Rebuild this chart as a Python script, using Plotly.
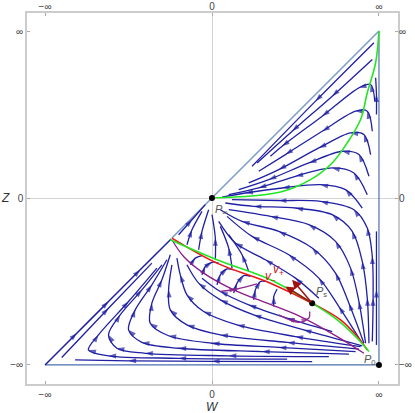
import plotly.graph_objects as go

# key points (w, z) in compactified coordinates, -inf..inf -> -1..1
p_inf = (0.0, 0.0)
p_s = (0.60, -0.63)
p_corner = (1.0, -1.0)
q_point = (-0.24, -0.24)

tick_vals = [-1, 0, 1]
tick_text = ["\u2212\u221e", "0", "\u221e"]

# separatrices / special orbits
green_up_w = [0, 0.41, 0.59, 0.72, 0.81, 0.89, 0.93, 0.98, 1]
green_up_z = [0, 0.036, 0.11, 0.21, 0.33, 0.47, 0.63, 0.81, 1]
green_lo_w = [-0.25, 0.03, 0.35, 0.60, 0.75, 0.87, 0.94]
green_lo_z = [-0.25, -0.37, -0.49, -0.63, -0.73, -0.84, -0.92]
red_w = [-0.24, 0.03, 0.35, 0.60, 0.77, 0.87, 0.93]
red_z = [-0.24, -0.39, -0.51, -0.63, -0.73, -0.83, -0.91]
purple_w = [-0.24, -0.17, -0.05, 0.13, 0.33, 0.53, 0.75, 0.91]
purple_z = [-0.25, -0.35, -0.45, -0.55, -0.63, -0.71, -0.83, -0.93]

# eigenvector tips at P_s
vplus_tip = (0.48, -0.49)
vminus_tip = (0.44, -0.53)

# streamlines, each listed from upstream to downstream as (w, z)
upper_lines = [
    [(0.97, 0.93), (0.62, 0.58), (0.24, 0.19)],
    [(0.96, 0.83), (0.72, 0.61), (0.48, 0.40), (0.27, 0.21)],
    [(0.975, 0.58), (0.95, 0.68), (0.88, 0.66), (0.66, 0.49), (0.42, 0.31), (0.35, 0.25)],
    [(0.96, 0.40), (0.93, 0.52), (0.86, 0.52), (0.66, 0.40), (0.44, 0.26), (0.28, 0.16)],
    [(0.95, 0.26), (0.91, 0.38), (0.83, 0.39), (0.64, 0.30), (0.40, 0.17), (0.22, 0.09)],
    [(0.94, 0.13), (0.88, 0.26), (0.78, 0.28), (0.58, 0.21), (0.34, 0.11), (0.16, 0.05)],
    [(0.93, 0.02), (0.85, 0.15), (0.72, 0.18), (0.50, 0.13), (0.28, 0.06), (0.10, 0.02)],
    [(0.90, -0.06), (0.80, 0.05), (0.65, 0.08), (0.42, 0.06), (0.20, 0.03), (0.06, 0.005)],
    [(0.985, 0.50), (0.985, 0.62), (0.98, 0.72)],
]
right_lines = [
    [(0.96, -0.86), (0.965, -0.60), (0.96, -0.35), (0.93, -0.18), (0.85, -0.07), (0.65, -0.02), (0.40, -0.015), (0.12, -0.01)],
    [(0.94, -0.87), (0.93, -0.60), (0.90, -0.38), (0.84, -0.20), (0.72, -0.10), (0.50, -0.06), (0.25, -0.05), (0.08, -0.03)],
    [(0.92, -0.87), (0.88, -0.62), (0.83, -0.42), (0.74, -0.26), (0.58, -0.16), (0.35, -0.11), (0.10, -0.07)],
    [(0.91, -0.87), (0.82, -0.63), (0.74, -0.45), (0.60, -0.30), (0.40, -0.20), (0.18, -0.14), (0.05, -0.07)],
    [(0.90, -0.87), (0.76, -0.65), (0.64, -0.48), (0.46, -0.34), (0.24, -0.23), (0.09, -0.11)],
    [(0.64, -0.60), (0.50, -0.48), (0.32, -0.37), (0.14, -0.27), (0.04, -0.14)],
    [(0.985, -0.88), (0.985, -0.55), (0.985, -0.20)],
]
center_lines = [
    [(-0.08, -0.31), (-0.06, -0.20), (-0.02, -0.07)],
    [(0.02, -0.37), (0.02, -0.24), (0.0, -0.10)],
    [(0.12, -0.42), (0.10, -0.30), (0.05, -0.17)],
    [(0.22, -0.44), (0.18, -0.34), (0.10, -0.22)],
    [(-0.20, -0.22), (-0.12, -0.13), (-0.04, -0.04)],
    [(-0.15, -0.28), (-0.12, -0.19), (-0.06, -0.08)],
]
hook_lines = [
    [(-0.13, -0.40), (-0.10, -0.36), (-0.06, -0.345)],
    [(-0.06, -0.46), (-0.04, -0.41), (0.0, -0.385), (0.04, -0.39)],
    [(0.03, -0.52), (0.05, -0.46), (0.09, -0.425), (0.13, -0.43)],
    [(0.13, -0.57), (0.15, -0.51), (0.19, -0.465), (0.23, -0.47)],
    [(0.25, -0.61), (0.26, -0.55), (0.29, -0.50), (0.32, -0.50)],
    [(0.37, -0.65), (0.37, -0.59), (0.39, -0.545)],
]
purple_arcs = [
    [(0.05, -0.56), (0.15, -0.545), (0.27, -0.515)],
    [(0.40, -0.70), (0.52, -0.745), (0.58, -0.72), (0.585, -0.68)],
]
lower_lines = [
    [(0.6, -0.98), (0.0, -0.978), (-0.5, -0.975), (-0.82, -0.97)],
    [(-0.90, -0.955), (-0.62, -0.66), (-0.36, -0.39)],
    [(0.45, -0.965), (-0.2, -0.96), (-0.62, -0.945), (-0.74, -0.91), (-0.68, -0.82), (-0.50, -0.62), (-0.33, -0.42)],
    [(0.70, -0.95), (0.1, -0.945), (-0.4, -0.93), (-0.57, -0.90), (-0.62, -0.82), (-0.55, -0.70), (-0.42, -0.55), (-0.30, -0.40)],
    [(0.82, -0.935), (0.3, -0.92), (-0.2, -0.90), (-0.42, -0.865), (-0.50, -0.79), (-0.46, -0.67), (-0.36, -0.52), (-0.27, -0.37)],
    [(0.86, -0.92), (0.4, -0.895), (0.0, -0.87), (-0.26, -0.825), (-0.37, -0.75), (-0.36, -0.63), (-0.30, -0.49), (-0.25, -0.34)],
    [(0.88, -0.905), (0.45, -0.865), (0.05, -0.82), (-0.15, -0.76), (-0.25, -0.67), (-0.26, -0.55), (-0.24, -0.40)],
    [(0.89, -0.89), (0.5, -0.83), (0.15, -0.76), (-0.05, -0.68), (-0.15, -0.58), (-0.19, -0.46), (-0.21, -0.36)],
    [(0.9, -0.885), (0.55, -0.79), (0.25, -0.70), (0.05, -0.61), (-0.08, -0.51), (-0.15, -0.40)],
    [(0.72, -0.80), (0.45, -0.72), (0.22, -0.64), (0.05, -0.56), (-0.06, -0.48)],
]
diag_stream = [(-1, -1), (-0.81, -0.81), (-0.62, -0.62), (-0.43, -0.43), (-0.245, -0.245)]

stream_color = "#2020a4"
fig = go.Figure()


def add_stream(pts, color=stream_color, width=1.3):
    w = [p[0] for p in pts]
    z = [p[1] for p in pts]
    sizes = [0] + [8] * (len(pts) - 2) + [0] if len(pts) > 2 else [0, 8]
    fig.add_trace(go.Scatter(
        x=w, y=z, mode="lines+markers",
        line=dict(color=color, width=width, shape="spline", smoothing=0.9),
        marker=dict(symbol="arrow", angleref="previous", size=sizes, color=color, line=dict(width=0)),
        hoverinfo="skip", showlegend=False))


# domain boundary
fig.add_trace(go.Scatter(x=[-1, 1, 1], y=[-1, -1, 1], mode="lines",
                         line=dict(color="#4f6fae", width=1.2), hoverinfo="skip", showlegend=False))
fig.add_trace(go.Scatter(x=[q_point[0], 1], y=[q_point[1], 1], mode="lines",
                         line=dict(color="#7b9bc9", width=1.5), hoverinfo="skip", showlegend=False))

for group in (upper_lines, right_lines, center_lines, hook_lines, lower_lines):
    for pts in group:
        add_stream(pts)
add_stream(diag_stream, width=1.5)
for pts in purple_arcs:
    add_stream(pts, color="#8e2a8e")

fig.add_trace(go.Scatter(x=purple_w, y=purple_z, mode="lines",
                         line=dict(color="#8b1c8b", width=1.3, shape="spline"), hoverinfo="skip", showlegend=False))
fig.add_trace(go.Scatter(x=red_w, y=red_z, mode="lines",
                         line=dict(color="#ee1515", width=1.6, shape="spline"), hoverinfo="skip", showlegend=False))
fig.add_trace(go.Scatter(x=green_lo_w, y=green_lo_z, mode="lines",
                         line=dict(color="#22e622", width=1.6, shape="spline"), hoverinfo="skip", showlegend=False))
fig.add_trace(go.Scatter(x=green_up_w, y=green_up_z, mode="lines",
                         line=dict(color="#22e622", width=1.6, shape="spline"), hoverinfo="skip", showlegend=False))

fig.add_trace(go.Scatter(x=[p_inf[0], p_s[0], p_corner[0]], y=[p_inf[1], p_s[1], p_corner[1]],
                         mode="markers", marker=dict(color="black", size=6),
                         hoverinfo="skip", showlegend=False))

# dummy trace for the top / right tick labels
fig.add_trace(go.Scatter(x=[0], y=[0], xaxis="x2", yaxis="y2", mode="markers",
                         marker=dict(size=0, opacity=0), hoverinfo="skip", showlegend=False))

for tip in (vplus_tip, vminus_tip):
    fig.add_annotation(x=tip[0], y=tip[1], ax=p_s[0], ay=p_s[1], axref="x", ayref="y",
                       xref="x", yref="y", text="", showarrow=True, arrowhead=2,
                       arrowsize=1.2, arrowwidth=1.5, arrowcolor="#a01010")

label_font = dict(family="Liberation Sans", size=11, color="#555555")
fig.add_annotation(x=p_inf[0], y=p_inf[1], text="<i>P</i><sub>\u221e</sub>", showarrow=False,
                   xanchor="left", yanchor="top", xshift=1, yshift=-3, font=label_font)
fig.add_annotation(x=p_s[0], y=p_s[1], text="<i>P</i><sub>s</sub>", showarrow=False,
                   xanchor="left", yanchor="bottom", xshift=2, yshift=2, font=label_font)
fig.add_annotation(x=0.92, y=-0.91, text="<i>P</i><sub>0</sub>", showarrow=False,
                   xanchor="left", yanchor="top", xshift=-4, yshift=-1, font=label_font)
red_font = dict(family="Liberation Sans", size=12, color="#cc1818")
fig.add_annotation(x=0.40, y=-0.43, text="<i>v</i><sub>+</sub>", showarrow=False, font=red_font)
fig.add_annotation(x=0.35, y=-0.475, text="<i>v</i><sub>\u2212</sub>", showarrow=False, font=red_font)

axis_font = dict(family="Liberation Sans", size=12, color="#333333")
fig.add_annotation(x=0, y=-1.114, yref="y", text="<i>W</i>", showarrow=False,
                   yanchor="top", yshift=-14, font=axis_font)
fig.add_annotation(x=-1.108, y=0, xref="x", text="<i>Z</i>", showarrow=False,
                   xanchor="right", xshift=-15, font=axis_font)

xr = [-1.108, 1.114]
yr = [-1.114, 1.108]
tick_font = dict(family="Liberation Sans", size=10, color="#444444")
common = dict(tickvals=tick_vals, ticktext=tick_text, showgrid=False, ticks="inside",
              ticklen=3, tickcolor="#aaaaaa", tickfont=tick_font, fixedrange=True,
              automargin=False)
fig.update_layout(
    width=415, height=413,
    margin=dict(l=27, r=17, t=13, b=29),
    plot_bgcolor="white", paper_bgcolor="white",
    xaxis=dict(range=xr, showline=True, mirror=True, linecolor="#cccccc", linewidth=1.5,
               zeroline=True, zerolinecolor="#d4d4d4", zerolinewidth=1, **common),
    yaxis=dict(range=yr, showline=True, mirror=True, linecolor="#cccccc", linewidth=1.5,
               zeroline=True, zerolinecolor="#d4d4d4", zerolinewidth=1, **common),
    xaxis2=dict(range=xr, overlaying="x", side="top", showline=False, zeroline=False, **common),
    yaxis2=dict(range=yr, overlaying="y", side="right", showline=False, zeroline=False, **common),
)

# drop the browser's default body margin so the figure fills the window exactly
fig.write_html("out.html", config={"displayModeBar": False},
               post_script="document.body.style.margin='0';document.body.style.overflow='hidden';")
